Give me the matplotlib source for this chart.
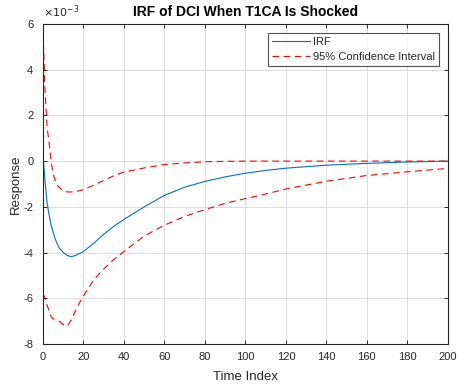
import matplotlib
matplotlib.use("Agg")
import matplotlib.pyplot as plt
import numpy as np

# Data (response values in units of 1e-3)
t = [0, 1, 2, 3, 4, 5, 6, 7, 8, 10, 12, 14, 16, 18, 20, 25, 30, 35, 40, 50,
     60, 70, 80, 90, 100, 110, 120, 140, 160, 180, 200]
irf = [0.25, -0.9, -1.8, -2.35, -2.8, -3.1, -3.4, -3.6, -3.8, -4.0, -4.13, -4.18,
       -4.13, -4.05, -3.95, -3.6, -3.2, -2.85, -2.55, -2.0, -1.5, -1.14, -0.89,
       -0.69, -0.53, -0.41, -0.31, -0.18, -0.10, -0.04, 0.0]
upper = [5.7, 3.1, 1.5, 0.8, 0.0, -0.55, -0.85, -1.05, -1.15, -1.3, -1.35, -1.35,
         -1.33, -1.3, -1.25, -1.05, -0.85, -0.64, -0.48, -0.3, -0.15, -0.08, -0.03,
         -0.01, 0.0, 0.0, 0.0, 0.0, 0.0, 0.0, 0.0]
lower = [-5.8, -6.0, -6.3, -6.55, -6.8, -6.9, -6.93, -6.97, -7.0, -7.15, -7.22, -6.95,
         -6.55, -6.2, -5.9, -5.2, -4.72, -4.3, -3.95, -3.28, -2.8, -2.42, -2.12,
         -1.85, -1.64, -1.44, -1.22, -0.88, -0.63, -0.47, -0.32]

xticks = list(range(0, 201, 20))
yticks = [-8, -6, -4, -2, 0, 2, 4, 6]

plt.rcParams['font.family'] = ['Liberation Sans', 'DejaVu Sans']
plt.rcParams['axes.unicode_minus'] = False

scale = 1e-3
fig = plt.figure(figsize=(4.58, 3.88), dpi=100)
ax = fig.add_axes([0.0939, 0.1134, 0.884, 0.825])

axc = '#262626'
ax.plot(t, np.array(irf) * scale, color='#0072BD', lw=0.8, label='IRF')
ax.plot(t, np.array(upper) * scale, color='red', lw=0.8, ls=(0, (6, 4)),
        label='95% Confidence Interval')
ax.plot(t, np.array(lower) * scale, color='red', lw=0.8, ls=(0, (6, 4)))

ax.set_xlim(0, 200)
ax.set_ylim(-8e-3, 6e-3)
ax.set_xticks(xticks)
ax.set_yticks([v * scale for v in yticks])
ax.set_yticklabels([str(v) for v in yticks])
ax.text(0.0, 1.012, r'$\times10^{-3}$', transform=ax.transAxes, fontsize=8,
        color=axc, ha='left', va='bottom')

ax.grid(True, color='#dcdcdc', lw=0.7)
ax.set_axisbelow(True)
ax.tick_params(direction='in', length=3, width=0.7, colors=axc, labelsize=8,
               top=True, right=True)
ax.tick_params(axis='x', pad=6)
ax.tick_params(axis='y', pad=7)
for s in ax.spines.values():
    s.set_color(axc)
    s.set_linewidth(0.8)

ax.set_title('IRF of DCI When T1CA Is Shocked', fontsize=10, fontweight='bold',
             color='black', pad=6)
ax.set_xlabel('Time Index', fontsize=9.5, color=axc, labelpad=6)
ax.set_ylabel('Response', fontsize=9.5, color=axc, labelpad=1)

leg = ax.legend(loc='upper right', fontsize=8, frameon=True, fancybox=False,
                edgecolor=axc, handlelength=3.4, borderaxespad=0.8,
                borderpad=0.35, labelspacing=0.45, handletextpad=0.3)
leg.get_frame().set_linewidth(0.8)
for txt in leg.get_texts():
    txt.set_color(axc)

fig.savefig('out.png', dpi=100)
